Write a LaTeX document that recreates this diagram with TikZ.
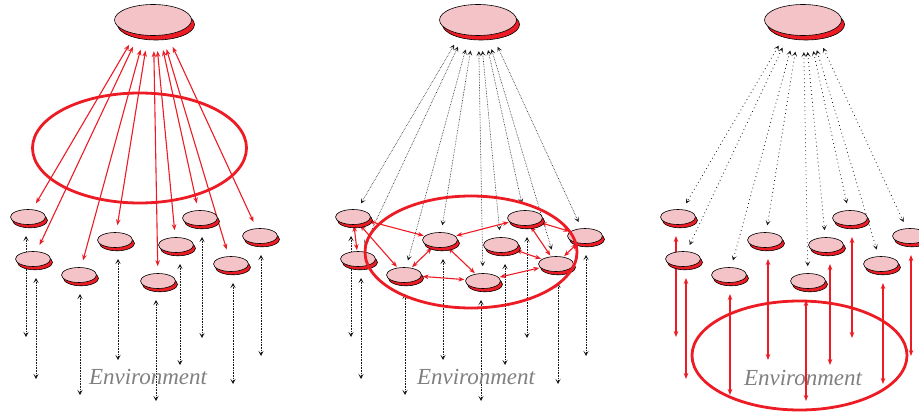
\documentclass[tikz,border=0pt]{standalone}
\usepackage{fontspec}
\setmainfont{Liberation Serif}
\usepackage{xcolor}
\usetikzlibrary{arrows.meta, shapes.geometric, shadows, backgrounds}
\definecolor{kred}{HTML}{ED1C24}
\definecolor{kpink}{HTML}{F4C3C7}

\begin{document}
\begin{tikzpicture}[x=1pt, y=-1pt,
  diskbase/.style={ellipse, draw=black, line width=0.6pt, fill=kpink, inner sep=0pt},
  disk/.style={diskbase, minimum width=35pt, minimum height=15pt,
    general shadow={fill=kred, draw=black, shadow xshift=2pt, shadow yshift=-3.3pt}},
  topdisk/.style={diskbase, minimum width=77pt, minimum height=31pt,
    general shadow={fill=kred, draw=black, shadow xshift=3pt, shadow yshift=-4.5pt}},
  redlink/.style={kred, line width=1.1pt,
    {Stealth[length=6pt,width=4.6pt]}-{Stealth[length=6pt,width=4.6pt]}},
  dotlink/.style={black!90, densely dotted, line width=0.6pt,
    {Stealth[length=5pt,width=5pt,inset=2.5pt]}-{Stealth[length=5pt,width=5pt,inset=2.5pt]}},
  sparselink/.style={dotlink, line width=0.8pt, dash pattern=on 0.8pt off 3.2pt},
  ring/.style={kred, line width=2.8pt},
  envlabel/.style={font=\fontsize{23}{25}\selectfont\itshape, text=black!50}]
\useasboundingbox (0,0) rectangle (919,412);

% the three panels: one central disk, nine agents each
\foreach \k/\sx in {1/0, 2/325, 3/650} {
  \node[topdisk] (p\k top) at (153+\sx,20) {};
  \foreach \i/\xx/\yy/\dx in {1/28/217/-2, 2/33/259/3, 3/79/275/1, 4/115/240/3,
      5/158/281/-2, 6/176/245/4, 7/200/218/2, 8/231/264/2, 9/260/236/1} {
    \node[disk] (p\k d\i) at (\xx+\sx,\yy) {};
    \path (p\k d\i) ++(\dx,19) coordinate (p\k s\i) ++(0,101) coordinate (p\k e\i);
  }
}

\node[envlabel] (p1env) at (148,377) {Environment};
\node[envlabel] (p2env) at (476,377) {Environment};
\node[envlabel] (p3env) at (803,378) {Environment};

\draw[ring] (139.5,148) ellipse [x radius=107, y radius=55];
\draw[ring] (471,252) ellipse [x radius=106, y radius=56];
\draw[ring] (799.5,355.5) ellipse [x radius=107.5, y radius=54.5];

\begin{pgfonlayer}{background}
  \foreach \i in {1,...,9} {
    \draw[redlink, shorten <=47pt, shorten >=7pt] (p1top.north) -- (p1d\i);
    \draw[dotlink] (p1s\i) -- (p1e\i);
    \draw[dotlink, shorten <=47pt, shorten >=7pt] (p2top.north) -- (p2d\i);
    \draw[dotlink] (p2s\i) -- (p2e\i);
    \draw[sparselink, shorten <=48pt, shorten >=7pt] (p3top.north) -- (p3d\i);
    \draw[redlink] (p3s\i) -- (p3e\i);
  }
  % links between the agents of the middle panel
  \foreach \a/\b in {1/2, 1/4, 1/3, 4/3, 3/5, 4/7, 4/5, 5/8, 6/8, 7/8, 7/9, 9/8}
    \draw[redlink, shorten <=1pt, shorten >=1pt] (p2d\a) -- (p2d\b);
\end{pgfonlayer}
\end{tikzpicture}
\end{document}
